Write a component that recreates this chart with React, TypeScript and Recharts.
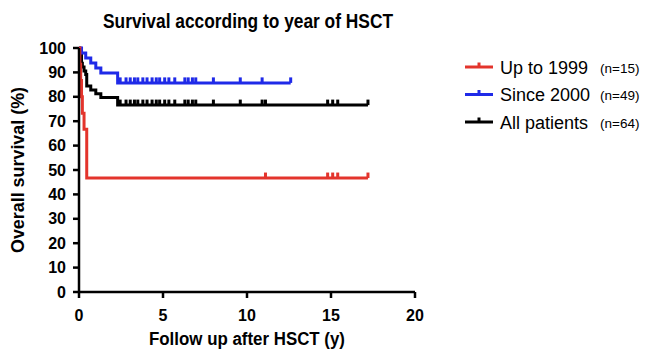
import React from 'react';
import { LineChart, Line, XAxis, YAxis, Label } from 'recharts';

const FONT = '"Liberation Sans", Arial, Helvetica, sans-serif';

const yearTicks = [0, 5, 10, 15, 20];
const survivalTicks = [0, 10, 20, 30, 40, 50, 60, 70, 80, 90, 100];

// Kaplan-Meier steps: time (years) where survival changes, and survival (%) from then on
const earlyTimes = [0, 0.05, 0.1, 0.15, 0.2, 0.3, 0.46];
const earlySurvival = [100, 93.3, 86.7, 80, 73.3, 66.7, 46.7];
const earlyCensored = [11.1, 14.8, 15.1, 15.4, 17.2];

const lateTimes = [0, 0.15, 0.4, 0.7, 1.0, 1.3, 2.3];
const lateSurvival = [100, 98.0, 95.9, 93.9, 91.8, 89.8, 85.7];
const lateCensored = [
  2.45, 2.8, 3.05, 3.3, 3.5, 3.8, 4.05, 4.35, 4.6, 4.8, 5.1, 5.35, 5.7,
  6.3, 6.5, 6.75, 6.95, 8.0, 9.6, 10.9, 12.6,
];

const allTimes = [0, 0.05, 0.1, 0.15, 0.2, 0.3, 0.4, 0.46, 0.7, 1.0, 1.3, 2.3];
const allSurvival = [100, 98.4, 96.9, 93.8, 92.2, 90.6, 89.1, 84.4, 82.8, 81.3, 79.7, 76.6];
const allCensored = [...lateCensored.slice(0, -1), 11.1, 14.8, 15.1, 15.4, 17.2];

const groups = [
  { name: 'Up to 1999', n: 'n=15', color: '#e3342c' },
  { name: 'Since 2000', n: 'n=49', color: '#1f2ae8' },
  { name: 'All patients', n: 'n=64', color: '#000000' },
];

type Pt = { t: number; s: number; c: boolean };

const buildCurve = (times: number[], surv: number[], censored: number[]): Pt[] => {
  const pts: Pt[] = times.map((t, i) => ({ t, s: surv[i], c: false }));
  censored.forEach((t) => {
    const i = times.filter((x) => x <= t).length - 1;
    pts.push({ t, s: surv[i], c: true });
  });
  return pts.sort((a, b) => a.t - b.t);
};

const earlyCurve = buildCurve(earlyTimes, earlySurvival, earlyCensored);
const lateCurve = buildCurve(lateTimes, lateSurvival, lateCensored);
const allCurve = buildCurve(allTimes, allSurvival, allCensored);

// small upward tick on censored observations
const censorMark = (color: string) => (props: any) => {
  const { cx, cy, payload, index } = props;
  if (!payload || !payload.c || cx == null) return <g key={`n${index}`} />;
  return <rect key={`c${index}`} x={cx - 1.5} y={cy - 5.5} width={3} height={5.5} fill={color} />;
};

const axisStroke = { stroke: '#000', strokeWidth: 2.5 };
const tickStyle = { fill: '#000', fontSize: 16, fontWeight: 'bold' as const, fontFamily: FONT };

export default function App() {
  return (
    <div
      style={{
        position: 'absolute',
        left: 0,
        top: 0,
        width: 646,
        height: 351,
        background: '#fff',
        fontFamily: FONT,
        overflow: 'hidden',
      }}
    >
      <LineChart width={646} height={351} margin={{ top: 48, right: 231, bottom: 29, left: 0 }}>
        <XAxis
          type="number"
          dataKey="t"
          domain={[0, 20]}
          ticks={yearTicks}
          height={30}
          axisLine={axisStroke}
          tickLine={axisStroke}
          tickSize={6}
          tickMargin={12}
          tick={tickStyle}
          interval={0}
        >
          <Label
            content={(p: any) => {
              const vb = p.viewBox;
              return (
                <text
                  x={vb.x + vb.width / 2}
                  y={345}
                  textAnchor="middle"
                  fontFamily={FONT}
                  fontWeight="bold"
                  fontSize={18}
                  textLength={196}
                  lengthAdjust="spacingAndGlyphs"
                  fill="#000"
                >
                  Follow up after HSCT (y)
                </text>
              );
            }}
          />
        </XAxis>
        <YAxis
          type="number"
          domain={[0, 100]}
          ticks={survivalTicks}
          width={79}
          axisLine={axisStroke}
          tickLine={axisStroke}
          tickSize={6}
          tickMargin={7}
          tick={tickStyle}
          interval={0}
        >
          <Label
            content={(p: any) => {
              const vb = p.viewBox;
              const x = 24;
              const y = vb.y + vb.height / 2;
              return (
                <text
                  x={x}
                  y={y}
                  transform={`rotate(-90 ${x} ${y})`}
                  textAnchor="middle"
                  fontFamily={FONT}
                  fontWeight="bold"
                  fontSize={18.5}
                  textLength={166}
                  lengthAdjust="spacingAndGlyphs"
                  fill="#000"
                >
                  Overall survival (%)
                </text>
              );
            }}
          />
        </YAxis>
        <Line
          data={allCurve}
          dataKey="s"
          type="stepAfter"
          stroke={groups[2].color}
          strokeWidth={3}
          dot={censorMark(groups[2].color)}
          activeDot={false}
          isAnimationActive={false}
        />
        <Line
          data={lateCurve}
          dataKey="s"
          type="stepAfter"
          stroke={groups[1].color}
          strokeWidth={3}
          dot={censorMark(groups[1].color)}
          activeDot={false}
          isAnimationActive={false}
        />
        <Line
          data={earlyCurve}
          dataKey="s"
          type="stepAfter"
          stroke={groups[0].color}
          strokeWidth={3}
          dot={censorMark(groups[0].color)}
          activeDot={false}
          isAnimationActive={false}
        />
      </LineChart>

      <svg width={646} height={351} style={{ position: 'absolute', left: 0, top: 0, pointerEvents: 'none' }}>
        <text
          x={248}
          y={28}
          textAnchor="middle"
          fontFamily={FONT}
          fontWeight="bold"
          fontSize={20}
          textLength={290}
          lengthAdjust="spacingAndGlyphs"
          fill="#000"
        >
          Survival according to year of HSCT
        </text>
        {groups.map((g, i) => {
          const cy = 67 + i * 27.5;
          return (
            <g key={g.name}>
              <line x1={465} x2={493} y1={cy} y2={cy} stroke={g.color} strokeWidth={3} />
              <rect x={477.5} y={cy - 4.5} width={3} height={4.5} fill={g.color} />
              <text x={500} y={cy + 6.5} fontFamily={FONT} fontSize={18} fill="#000">
                {g.name}
              </text>
              <text x={600} y={cy + 5.5} fontFamily={FONT} fontSize={13.5} fill="#000">
                ({g.n})
              </text>
            </g>
          );
        })}
      </svg>
    </div>
  );
}
